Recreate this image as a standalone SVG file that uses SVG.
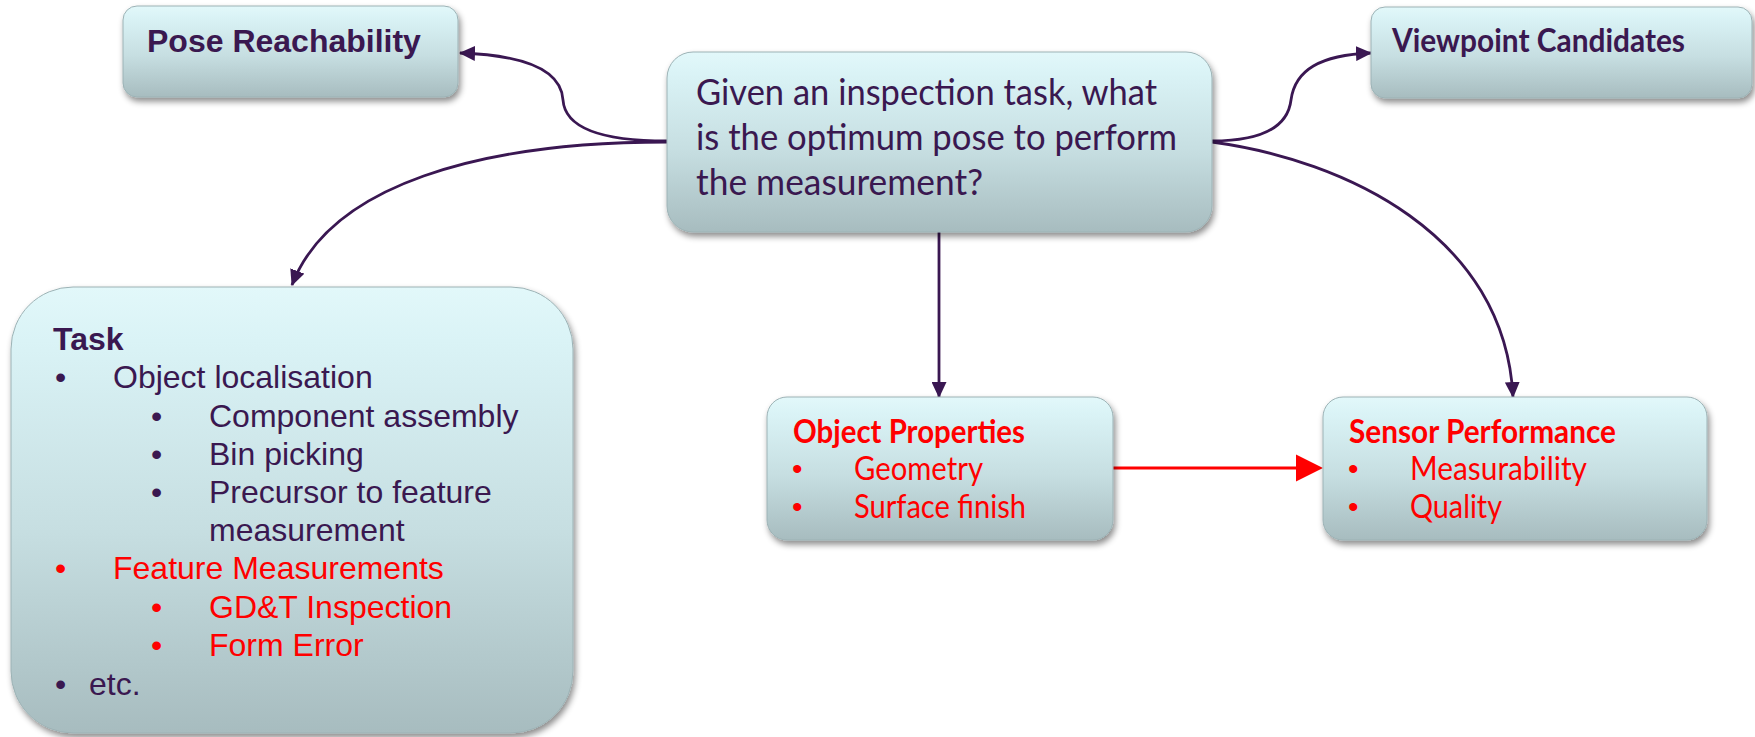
<svg xmlns="http://www.w3.org/2000/svg" width="1755" height="737" viewBox="0 0 1755 737">
<defs>
<linearGradient id="boxFill" x1="0" y1="0" x2="0" y2="1">
<stop offset="0" stop-color="#E2F8FA"/>
<stop offset="0.12" stop-color="#DAF3F6"/>
<stop offset="0.55" stop-color="#C6DEE1"/>
<stop offset="1" stop-color="#A7BCBF"/>
</linearGradient>
<filter id="shadow" x="-10%" y="-10%" width="125%" height="135%">
<feDropShadow dx="2" dy="4" stdDeviation="3" flood-color="#000" flood-opacity="0.45"/>
</filter>
<marker id="arrowDark" viewBox="0 0 16 15" refX="15" refY="7.5" markerWidth="16" markerHeight="15" markerUnits="userSpaceOnUse" orient="auto">
<path d="M0,0 L16,7.5 L0,15 z" fill="#3A1752"/>
</marker>
<style>
.box{fill:url(#boxFill);stroke:#9CB2B5;stroke-width:1;filter:url(#shadow);}
.conn{fill:none;stroke:#3A1752;stroke-width:2.8;marker-end:url(#arrowDark);}
.red-conn{fill:none;stroke:#FF0000;stroke-width:3;}
.arial{font-family:"Liberation Sans",Arial,sans-serif;font-size:32px;fill:#3A1850;}
.cal{font-family:Lato,Carlito,"Liberation Sans",sans-serif;font-size:32px;fill:#3A1850;}
.bold{font-weight:bold;}
.red{fill:#FF0000;}
.big{font-size:36px;}
.dot{font-family:"Liberation Sans",Arial,sans-serif;font-size:30px;}
</style>
</defs>
<rect width="1755" height="737" fill="#FFFFFF"/>

<g id="connectors">
<path class="conn" d="M667,141 C600,141 565,128 563,100 C561,68 520,55 460,53"/>
<path class="conn" d="M667,142 C480,142 330,185 292,285"/>
<path class="conn" d="M939,232 L939,397"/>
<path class="conn" d="M1212,141 C1265,141 1288,125 1291,100 C1295,70 1320,55 1371,53"/>
<path class="conn" d="M1212,142 C1345,160 1505,235 1513,397"/>
<line class="red-conn" x1="1113" y1="468" x2="1298" y2="468"/>
<polygon points="1296,454.5 1323,468 1296,481.5" fill="#FF0000"/>
</g>

<g id="pose-reachability">
<rect class="box" x="123" y="6" width="335" height="91" rx="14"/>
<text class="arial bold" x="147" y="52">Pose Reachability</text>
</g>

<g id="central-question">
<rect class="box" x="667" y="52" width="545" height="180" rx="26"/>
<text class="cal big" x="696" y="105" textLength="461" lengthAdjust="spacingAndGlyphs">Given an inspection task, what</text>
<text class="cal big" x="696" y="150" textLength="481" lengthAdjust="spacingAndGlyphs">is the optimum pose to perform</text>
<text class="cal big" x="696" y="195" textLength="287" lengthAdjust="spacingAndGlyphs">the measurement?</text>
</g>

<g id="viewpoint-candidates">
<rect class="box" x="1371" y="7" width="381" height="91" rx="14"/>
<text class="cal bold" x="1392" y="52" textLength="293" lengthAdjust="spacingAndGlyphs">Viewpoint Candidates</text>
</g>

<g id="task">
<rect class="box" x="11" y="287" width="562" height="446" rx="62"/>
<text class="arial bold" x="53" y="350">Task</text>
<text class="arial" x="55" y="388">•</text>
<text class="arial" x="113" y="388">Object localisation</text>
<text class="arial" x="151" y="426.5">•</text>
<text class="arial" x="209" y="426.5">Component assembly</text>
<text class="arial" x="151" y="464.5">•</text>
<text class="arial" x="209" y="464.5">Bin picking</text>
<text class="arial" x="151" y="502.5">•</text>
<text class="arial" x="209" y="502.5">Precursor to feature</text>
<text class="arial" x="209" y="541">measurement</text>
<text class="arial red" x="55" y="579">•</text>
<text class="arial red" x="113" y="579">Feature Measurements</text>
<text class="arial red" x="151" y="617.5">•</text>
<text class="arial red" x="209" y="617.5">GD&amp;T Inspection</text>
<text class="arial red" x="151" y="656">•</text>
<text class="arial red" x="209" y="656">Form Error</text>
<text class="arial" x="55" y="694.5">•</text>
<text class="arial" x="89" y="694.5">etc.</text>
</g>

<g id="object-properties">
<rect class="box" x="767" y="397" width="346" height="143" rx="20"/>
<text class="cal bold red" x="793" y="443" textLength="232" lengthAdjust="spacingAndGlyphs">Object Properties</text>
<text class="dot red" x="792" y="479">•</text>
<text class="cal red" x="854" y="480" textLength="129" lengthAdjust="spacingAndGlyphs">Geometry</text>
<text class="dot red" x="792" y="517">•</text>
<text class="cal red" x="854" y="518" textLength="172" lengthAdjust="spacingAndGlyphs">Surface finish</text>
</g>

<g id="sensor-performance">
<rect class="box" x="1323" y="397" width="384" height="143" rx="20"/>
<text class="cal bold red" x="1349" y="443" textLength="267" lengthAdjust="spacingAndGlyphs">Sensor Performance</text>
<text class="dot red" x="1348" y="479">•</text>
<text class="cal red" x="1410" y="480" textLength="177" lengthAdjust="spacingAndGlyphs">Measurability</text>
<text class="dot red" x="1348" y="517">•</text>
<text class="cal red" x="1410" y="518" textLength="92" lengthAdjust="spacingAndGlyphs">Quality</text>
</g>
</svg>
